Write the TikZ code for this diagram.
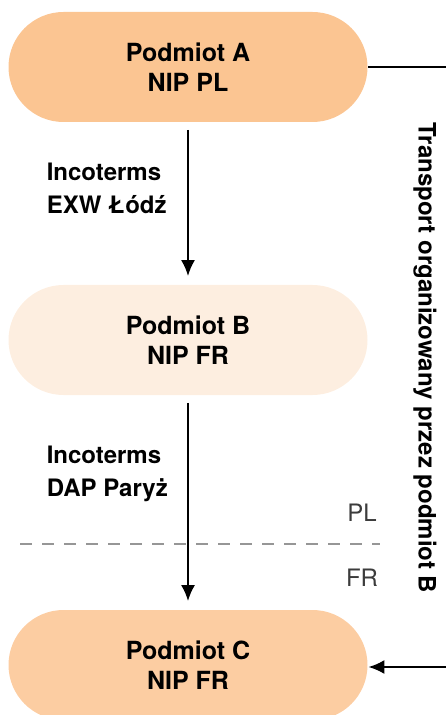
\documentclass[tikz,border=0pt]{standalone}
\usepackage{fontspec}
\setmainfont{TeX Gyre Heros}
\usetikzlibrary{arrows.meta}

\definecolor{peach}{RGB}{251,197,146}
\definecolor{lightpeach}{RGB}{253,238,224}
\definecolor{midpeach}{RGB}{252,205,162}
\definecolor{dashgray}{RGB}{150,150,150}
\definecolor{zonegray}{RGB}{60,60,60}

\begin{document}
\begin{tikzpicture}[x=0.5pt,y=-0.5pt,thick,
  entity/.style={rectangle,rounded corners=27.5pt,minimum width=179.5pt,minimum height=55pt,
    align=center,font=\fontsize{12.5}{15}\selectfont\bfseries},
  term/.style={align=left,anchor=west,inner sep=0pt,font=\fontsize{12}{16.5}\selectfont\bfseries},
  zone/.style={text=zonegray,font=\fontsize{12}{14}\selectfont},
  flow/.style={line width=1.2pt,-{Latex[length=8pt,width=7pt]}}]
\useasboundingbox (0,0) rectangle (445,715);
\node[entity] (A) [fill=peach] at (188,67) {Podmiot A\\NIP PL};
\node[entity] (B) [fill=lightpeach] at (188,340) {Podmiot B\\NIP FR};
\node[entity] (C) [fill=midpeach] at (188,665) {Podmiot C\\NIP FR};
\node[term] (T1) at (46,188) {Incoterms\\EXW Łódź};
\node[term] (T2) at (46,474) {Incoterms\\DAP Paryż};
\node[zone] (PL) at (362,513) {PL};
\node[zone] (FR) at (362,578) {FR};
\node[font=\fontsize{12}{14}\selectfont\bfseries,rotate=-90] (Tr) at (425,358)
  {Transport organizowany przez podmiot B};
\coordinate (R1) at (452,67);
\coordinate (R2) at (452,667);
\coordinate (D1) at (20,544);
\coordinate (D2) at (380,544);
\draw[dashgray,line width=1.2pt,dash pattern=on 6pt off 5pt] (D1) -- (D2);
\draw[flow] ([yshift=-3.5pt]A.south) -- ([yshift=4pt]B.north);
\draw[flow] ([yshift=-3.5pt]B.south) -- ([yshift=4pt]C.north);
\draw[line width=1.2pt] (A.east) -- (R1) -- (R2);
\draw[flow] (R2) -- (C.east |- R2);
\end{tikzpicture}
\end{document}
